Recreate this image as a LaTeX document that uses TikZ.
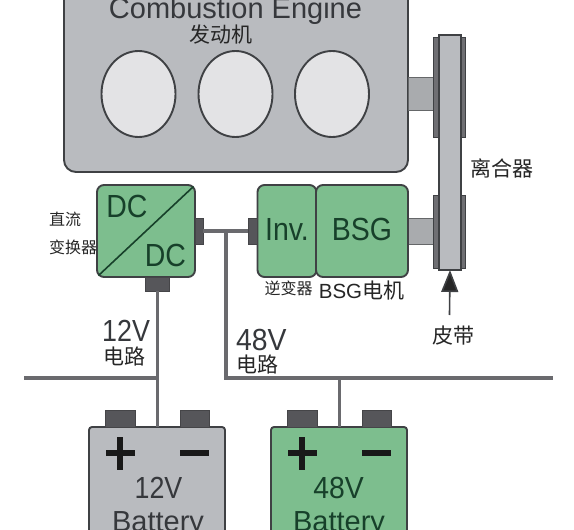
\documentclass[tikz,border=0pt]{standalone}
\usepackage{fontspec}
\setmainfont{Liberation Sans}
\newfontfamily\cjk{Noto Sans CJK SC}
\usetikzlibrary{arrows.meta,shapes.geometric,calc}
\definecolor{gfill}{HTML}{7DBE8E}
\definecolor{gyfill}{HTML}{B9BBBF}
\definecolor{edge}{HTML}{3F4144}
\definecolor{term}{HTML}{56565A}
\definecolor{shaftc}{HTML}{A9ABAE}
\definecolor{cyl}{HTML}{E3E3E5}
\definecolor{wire}{HTML}{6A6A6E}
\definecolor{gtext}{HTML}{17402A}
\definecolor{ytext}{HTML}{36383C}
\tikzset{
  x=1pt,y=-1pt,
  part/.style={draw=edge,line width=1.9pt,inner sep=0,outer sep=0},
  greenbox/.style={part,fill=gfill,rounded corners=7pt},
  graybox/.style={part,fill=gyfill,rounded corners=10pt},
  cylinder/.style={part,fill=cyl,shape=ellipse,minimum width=74pt,minimum height=86pt},
  shaft/.style={draw=edge!80,line width=.7pt,fill=shaftc,inner sep=0,outer sep=0},
  flange/.style={draw=edge,line width=1pt,fill=term!85!white,inner sep=0,outer sep=0},
  termin/.style={fill=term,draw=term!80!black,line width=.5pt,inner sep=0,outer sep=0},
  wireline/.style={draw=wire,line width=3.5pt},
  thinwire/.style={draw=wire,line width=3pt},
  sym/.style={fill=black!90,inner sep=0,outer sep=0},
  cn/.style={font=\cjk\fontsize{21}{24}\selectfont,text=black!85,inner sep=0},
  cns/.style={font=\cjk\fontsize{16}{19}\selectfont,text=black!85,inner sep=0},
  lab/.style={font=\fontsize{29}{32}\selectfont,inner sep=0},
  vlab/.style={font=\fontsize{30.5}{32}\selectfont,inner sep=0},
  boxlab/.style={font=\fontsize{32}{34}\selectfont,inner sep=0,text=gtext,xscale=.89},
}
\begin{document}
\begin{tikzpicture}
\useasboundingbox (0,0) rectangle (574,530);
\clip (0,0) rectangle (574,530);
\fill[white] (0,0) rectangle (574,530);
% engine
\node[graybox,fill=gyfill,rounded corners=12pt,minimum width=344pt,minimum height=222pt] (engine) at (236,61) {};
\node[lab,text=ytext,anchor=base] (enginelabel) at (235.5,18) {Combustion Engine};
\node[cn,anchor=center] (enginecn) at (221,35) {发动机};
\node[cylinder] (cyl1) at (138.5,94) {};
\node[cylinder] (cyl2) at (235.5,94) {};
\node[cylinder] (cyl3) at (332,94) {};
% shafts
\node[shaft,minimum width=25pt,minimum height=33pt] (shafttop) at (420.5,93.5) {};
\node[shaft,minimum width=25pt,minimum height=26pt] (shaftlow) at (420.5,231) {};
% pulley flanges
\node[flange,minimum width=6pt,minimum height=100pt] (fl1) at (436,87) {};
\node[flange,minimum width=5pt,minimum height=100pt] (fr1) at (463,87) {};
\node[flange,minimum width=6pt,minimum height=73pt] (fl2) at (436,231.5) {};
\node[flange,minimum width=5pt,minimum height=73pt] (fr2) at (463,231.5) {};
\node[part,fill=gyfill,minimum width=22pt,minimum height=235pt] (belt) at (450,152.5) {};
% arrow to belt
\coordinate (beltfoot) at (449.5,315);
\draw[draw=edge,line width=1.6pt,-{Triangle[length=22pt,width=17pt,fill=black!85]}] (beltfoot) -- (belt.south);
% DC/DC
\node[greenbox,minimum width=98pt,minimum height=92pt] (dc) at (146,231) {};
\draw[draw=gtext,line width=1.6pt] ($(dc.south west)+(1.5,-1.5)$) -- ($(dc.north east)+(-1.5,1.5)$);
\node[boxlab] (dc1) at (127,206.5) {DC};
\node[boxlab] (dc2) at (165.5,255.5) {DC};
% Inv + BSG
\node[greenbox,minimum width=59pt,minimum height=92pt] (inv) at (287,231) {};
\node[greenbox,minimum width=92pt,minimum height=92pt] (bsg) at (362,231) {};
\node[boxlab] (invt) at (287,229) {Inv.};
\node[boxlab] (bsgt) at (362,229) {BSG};
% terminals
\node[termin,minimum width=8pt,minimum height=26pt] (dcr) at (199,231) {};
\node[termin,minimum width=9pt,minimum height=26pt] (invl) at (252.5,231) {};
\node[termin,minimum width=24pt,minimum height=14pt] (dcb) at (157,284) {};
% batteries
\node[part,fill=gyfill,rounded corners=3pt,minimum width=136pt,minimum height=140pt,anchor=north] (bat12) at (157,427) {};
\node[part,fill=gfill,rounded corners=3pt,minimum width=136pt,minimum height=140pt,anchor=north] (bat48) at (339,427) {};
\node[termin,minimum width=30pt,minimum height=17pt,anchor=south] (t1) at (120,427) {};
\node[termin,minimum width=29pt,minimum height=17pt,anchor=south] (t2) at (194.5,427) {};
\node[termin,minimum width=30pt,minimum height=17pt,anchor=south] (t3) at (302,427) {};
\node[termin,minimum width=29pt,minimum height=17pt,anchor=south] (t4) at (376.5,427) {};
% wires
\coordinate (busL) at (24,378);
\coordinate (busR) at (553,378);
\coordinate (j48) at (226,231);
\coordinate (j48b) at (226,378);
\coordinate (j12) at (157,378);
\coordinate (jb48) at (339,378);
\draw[wireline] (dcr.east) -- (invl.west);
\draw[wireline,line join=miter] (j48) -- (j48b) -- (busR);
\draw[wireline] (busL) -- (j12);
\draw[thinwire] (dcb.south) -- (bat12.north);
\draw[thinwire] (jb48) -- (bat48.north);
% plus / minus
\foreach \n/\c in {p1/120,p2/302}{
  \node[sym,minimum width=29pt,minimum height=6pt] (\n h) at (\c,453) {};
  \node[sym,minimum width=6pt,minimum height=33pt] (\n v) at (\c,453) {};
}
\node[sym,minimum width=29pt,minimum height=6pt] (m1) at (194.5,453) {};
\node[sym,minimum width=29pt,minimum height=6pt] (m2) at (376.5,453) {};
% battery labels
\node[vlab,text=ytext,anchor=base,xscale=.88] (b12a) at (158.5,498) {12V};
\node[lab,text=ytext,anchor=base] (b12b) at (158,531) {Battery};
\node[vlab,text=gtext,anchor=base,xscale=.93] (b48a) at (338.5,498) {48V};
\node[lab,text=gtext,anchor=base] (b48b) at (339,531) {Battery};
% chinese and voltage labels
\node[cn] (clutch) at (501.5,168) {离合器};
\node[cn] (beltl) at (453.5,336) {皮带};
\node[cns,anchor=west] (d1) at (49,219) {直流};
\node[cns,anchor=west] (d2) at (49,247) {变换器};
\node[cns] (invc) at (288.5,288.5) {逆变器};
\node[inner sep=0,font=\fontsize{20.5}{24}\selectfont,text=black!85] (bsgc) at (361.5,290.5) {BSG{\cjk\fontsize{21}{24}\selectfont 电机}};
\node[vlab,text=ytext,anchor=base west,xscale=.88] (v12) at (102,341) {12V};
\node[cn,anchor=west] (v12c) at (103,356) {电路};
\node[vlab,text=ytext,anchor=base west,xscale=.93] (v48) at (236,350) {48V};
\node[cn,anchor=west] (v48c) at (236,364) {电路};
\end{tikzpicture}
\end{document}
